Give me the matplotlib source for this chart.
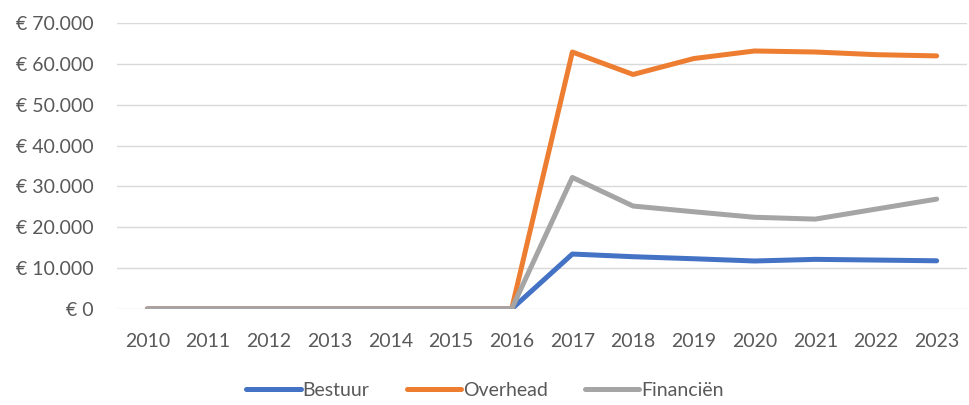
import matplotlib
matplotlib.use("Agg")
import matplotlib.pyplot as plt
from matplotlib.ticker import FuncFormatter

years = [str(y) for y in range(2010, 2024)]
bestuur = [0, 0, 0, 0, 0, 0, 0, 13450, 12800, 12300, 11750, 12150, 11980, 11800]
overhead = [0, 0, 0, 0, 0, 0, 0, 62900, 57400, 61300, 63150, 62900, 62250, 61950]
financien = [0, 0, 0, 0, 0, 0, 0, 32200, 25200, 23800, 22450, 22000, 24450, 26900]
series_names = ["Bestuur", "Overhead", "Financiën"]
colors = ["#4472C4", "#ED7D31", "#A5A5A5"]

plt.rcParams['font.family'] = ['Lato', 'DejaVu Sans']
text_color = "#595959"

fig = plt.figure(figsize=(9.7, 4.05), dpi=100)
ax = fig.add_axes([117/970, 1 - 309/405, (967-117)/970, (309-23)/405])

x = list(range(len(years)))
for vals, name, c in zip([bestuur, overhead, financien], series_names, colors):
    ax.plot(x, vals, color=c, lw=3.6, label=name, solid_capstyle='round', solid_joinstyle='round')

ax.set_xlim(-0.5, len(years) - 0.5)
ax.set_ylim(0, 70000)
ax.set_yticks(range(0, 70001, 10000))
ax.yaxis.set_major_formatter(FuncFormatter(lambda v, p: "€ " + f"{int(v):,}".replace(",", ".")))
ax.set_xticks(x)
ax.set_xticklabels(years)
ax.grid(axis='y', color="#D9D9D9", lw=1)
ax.set_axisbelow(True)
for s in ax.spines.values():
    s.set_visible(False)
ax.tick_params(axis='both', length=0, colors=text_color, labelsize=14)
ax.tick_params(axis='y', pad=17)
ax.tick_params(axis='x', pad=17)

leg = fig.legend(loc='center', bbox_to_anchor=(0.5, 1 - 390/405), ncol=3, frameon=False,
                 fontsize=14, handlelength=2.8, handletextpad=0.1, columnspacing=1.9)
for t in leg.get_texts():
    t.set_color(text_color)

fig.savefig("out.png", dpi=100)
